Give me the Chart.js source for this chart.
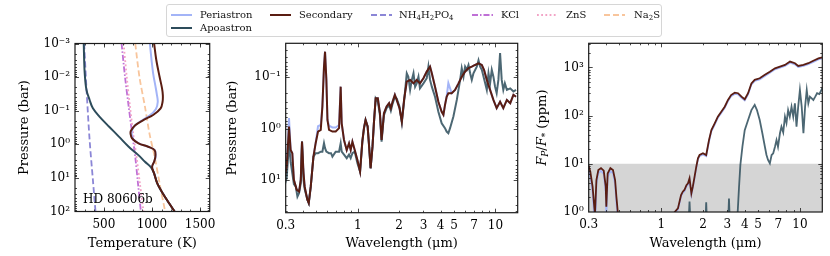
<!DOCTYPE html>
<html>
<head>
<meta charset="utf-8">
<script src="https://cdn.jsdelivr.net/npm/chart.js@4.4.0/dist/chart.umd.min.js"></script>
<style>
    html, body { margin: 0; padding: 0; background: #fff; }
    #lienzo { position: relative; width: 830px; height: 256px; overflow: hidden; font-family: "DejaVu Serif", serif; }
    .panel { position: absolute; top: 0; }
    #leyenda {
        position: absolute; left: 166px; top: 4px; width: 496px; height: 33px;
        box-sizing: border-box; border: 1px solid #d6d6d6; border-radius: 3px;
        background: rgba(255, 255, 255, 0.85); font-size: 10px; color: #111; z-index: 2;
    }
    .entrada { position: absolute; height: 12px; line-height: 12px; white-space: nowrap; }
    .entrada svg { position: absolute; top: 3px; }
    .entrada span { position: absolute; top: 0; }
    sub { font-size: 7px; vertical-align: -2px; line-height: 0; }
</style>
</head>
<body>
<div id="lienzo">
    <canvas id="panelTP" class="panel" width="222" height="256" style="left:0px"></canvas>
    <canvas id="panelPresion" class="panel" width="300" height="256" style="left:222px"></canvas>
    <canvas id="panelFlujo" class="panel" width="308" height="256" style="left:522px"></canvas>
    <div id="leyenda"></div>
</div>
<script>
// --- DATOS: perfiles temperatura-presion (panel izquierdo) ---
const tPeriastron = [978, 995, 1012, 1035, 1050, 1060, 1040, 975, 890, 815, 790, 792, 805, 870, 965, 1030, 1038, 1022, 1001, 1022, 1055, 1113, 1180, 1235];
const pPeriastron = [1e-3, 3e-3, 7.7e-3, 0.018, 0.032, 0.055, 0.09, 0.14, 0.2, 0.29, 0.42, 0.55, 0.7, 0.95, 1.2, 1.5, 2.35, 3.3, 4.7, 7.3, 14.6, 29, 58, 100];
const tApoastron = [291, 295, 301, 319, 352, 386, 454, 555, 656, 758, 859, 927, 988, 1022, 1055, 1113, 1180, 1235];
const pApoastron = [1e-3, 3e-3, 7.7e-3, 0.024, 0.048, 0.085, 0.15, 0.30, 0.59, 1.18, 2.1, 3.3, 4.8, 7.3, 14.6, 29, 58, 100];
const tSecondary = [1022, 1045, 1079, 1105, 1113, 1110, 1090, 1012, 910, 826, 780, 778, 792, 860, 961, 1028, 1035, 1022, 1001, 1022, 1055, 1113, 1180, 1235];
const pSecondary = [1e-3, 3.1e-3, 9.8e-3, 0.022, 0.035, 0.054, 0.085, 0.134, 0.19, 0.27, 0.40, 0.5, 0.66, 0.94, 1.18, 1.5, 2.35, 3.3, 4.7, 7.3, 14.6, 29, 58, 100];

// curvas de condensacion
const tNH4H2PO4 = [295, 322, 352, 386, 413];
const pNH4H2PO4 = [1e-3, 0.03, 0.75, 11.5, 100];
const tKCl = [684, 720, 758, 795, 826, 855, 885];
const pKCl = [1e-3, 0.01, 0.076, 0.5, 2.35, 15, 100];
const tZnS = [705, 738, 772, 806, 840, 875, 912];
const pZnS = [1e-3, 0.01, 0.076, 0.5, 2.35, 15, 100];
const tNa2S = [826, 870, 927, 975, 1028, 1080, 1137];
const pNa2S = [1e-3, 0.01, 0.076, 0.5, 2.35, 15, 100];

// --- DATOS: presion fotosferica vs longitud de onda (panel central) ---
const waveSec2 = [0.295, 0.305, 0.317, 0.326, 0.335, 0.344, 0.361, 0.375, 0.386, 0.394, 0.404, 0.412, 0.431, 0.441, 0.456, 0.477, 0.495, 0.515, 0.539, 0.554, 0.569, 0.579, 0.592, 0.603, 0.619, 0.655, 0.692, 0.732, 0.752, 0.765, 0.795, 0.832, 0.865, 0.889, 0.915, 0.951, 0.995, 1.04, 1.08, 1.11, 1.14, 1.18, 1.21, 1.24, 1.28, 1.31, 1.35, 1.40, 1.45, 1.49, 1.55, 1.62, 1.69, 1.74, 1.79, 1.86, 1.92, 2.01, 2.09, 2.17, 2.27, 2.40, 2.54, 2.68, 2.83, 3.0, 3.17, 3.35, 3.45, 3.64, 3.85, 4.07, 4.19, 4.30, 4.42, 4.55, 4.81, 5.09, 5.39, 5.69, 6.02, 6.37, 6.73, 7.11, 7.53, 7.96, 8.27, 8.65, 9.14, 9.66, 10.2, 10.8, 11.4, 12.1, 12.8, 13.5, 14.1];
const presSec2 = [8.5, 5.5, 0.91, 2.6, 3.0, 9.9, 15.5, 16.7, 9.9, 1.79, 7.3, 13.4, 24, 28, 13.4, 3.5, 1.92, 1.14, 1.06, 0.37, 0.0625, 0.032, 0.113, 0.68, 1.06, 1.14, 1.14, 0.98, 0.153, 0.79, 1.66, 2.6, 1.92, 2.6, 1.79, 2.6, 4.05, 6.8, 1.79, 0.98, 0.68, 0.91, 2.24, 5.9, 2.24, 0.79, 0.257, 0.257, 0.50, 1.66, 0.50, 0.37, 0.32, 0.40, 0.30, 0.22, 0.28, 0.40, 0.73, 0.277, 0.122, 0.113, 0.132, 0.113, 0.132, 0.105, 0.078, 0.0625, 0.084, 0.153, 0.30, 0.47, 0.54, 0.35, 0.24, 0.205, 0.205, 0.177, 0.132, 0.098, 0.078, 0.067, 0.0625, 0.058, 0.054, 0.058, 0.073, 0.113, 0.177, 0.277, 0.40, 0.30, 0.40, 0.277, 0.32, 0.22, 0.24];
const presPer2 = [8.5, 5.5, 0.62, 2.6, 3.0, 9.9, 15.5, 16.7, 9.9, 1.79, 7.3, 13.4, 24, 28, 13.4, 3.5, 1.92, 0.9, 0.85, 0.37, 0.0625, 0.032, 0.113, 0.68, 0.88, 0.95, 0.95, 0.85, 0.153, 0.79, 1.66, 2.6, 1.92, 2.6, 1.79, 2.6, 4.05, 6.8, 1.79, 0.98, 0.68, 0.91, 2.24, 5.9, 2.24, 0.79, 0.257, 0.257, 0.50, 1.66, 0.50, 0.37, 0.32, 0.40, 0.30, 0.22, 0.28, 0.40, 0.73, 0.277, 0.122, 0.113, 0.132, 0.113, 0.132, 0.105, 0.078, 0.0625, 0.084, 0.153, 0.30, 0.47, 0.54, 0.35, 0.24, 0.13, 0.205, 0.177, 0.132, 0.098, 0.078, 0.067, 0.0625, 0.058, 0.054, 0.058, 0.073, 0.113, 0.177, 0.277, 0.40, 0.30, 0.40, 0.277, 0.32, 0.22, 0.24];
const waveApo2 = [0.295, 0.305, 0.317, 0.326, 0.335, 0.344, 0.355, 0.365, 0.375, 0.386, 0.394, 0.404, 0.412, 0.431, 0.441, 0.456, 0.477, 0.495, 0.515, 0.539, 0.554, 0.569, 0.579, 0.592, 0.619, 0.64, 0.655, 0.692, 0.732, 0.752, 0.765, 0.795, 0.832, 0.865, 0.889, 0.915, 0.951, 0.995, 1.04, 1.08, 1.11, 1.14, 1.18, 1.21, 1.24, 1.28, 1.31, 1.35, 1.40, 1.45, 1.49, 1.55, 1.62, 1.69, 1.74, 1.79, 1.86, 1.92, 2.01, 2.09, 2.17, 2.27, 2.33, 2.40, 2.47, 2.54, 2.61, 2.68, 2.76, 2.83, 3.0, 3.17, 3.26, 3.35, 3.45, 3.64, 3.85, 4.07, 4.30, 4.42, 4.55, 4.68, 4.95, 5.24, 5.54, 5.69, 5.86, 6.02, 6.19, 6.37, 6.55, 6.73, 6.92, 7.32, 7.53, 7.74, 7.96, 8.42, 8.65, 8.90, 9.14, 9.40, 9.66, 9.93, 10.2, 10.5, 10.8, 11.1, 11.4, 11.7, 12.1, 12.8, 13.5, 14.1];
const presApo2 = [12.4, 9, 1.92, 4.5, 7.3, 12, 13.4, 21, 18, 11.5, 1.79, 9.9, 15, 24, 28, 13.4, 3.5, 3.0, 3.0, 2.8, 2.8, 1.92, 2.4, 2.8, 3.0, 3.0, 3.5, 2.8, 2.8, 1.92, 2.8, 3.2, 3.75, 3.2, 3.75, 3.0, 2.8, 4.7, 6.8, 1.79, 0.98, 0.68, 0.91, 2.24, 5.9, 2.24, 0.79, 0.257, 0.30, 0.55, 1.8, 0.55, 0.40, 0.35, 0.45, 0.33, 0.24, 0.26, 0.37, 0.76, 0.30, 0.084, 0.098, 0.177, 0.113, 0.084, 0.153, 0.132, 0.098, 0.165, 0.132, 0.105, 0.0625, 0.113, 0.153, 0.24, 0.47, 0.79, 0.98, 1.14, 1.23, 0.98, 0.58, 0.277, 0.113, 0.067, 0.098, 0.0625, 0.072, 0.058, 0.084, 0.113, 0.084, 0.0625, 0.047, 0.0625, 0.072, 0.132, 0.177, 0.084, 0.132, 0.072, 0.098, 0.153, 0.205, 0.113, 0.034, 0.113, 0.177, 0.132, 0.177, 0.165, 0.19, 0.177];

// --- DATOS: contraste planeta/estrella en ppm (panel derecho) ---
const waveSec3 = [0.298, 0.308, 0.320, 0.329, 0.333, 0.341, 0.352, 0.368, 0.385, 0.398, 0.402, 0.411, 0.430, 0.449, 0.465, 0.475, 0.486, 0.495, 1.22, 1.25, 1.32, 1.39, 1.43, 1.47, 1.52, 1.56, 1.60, 1.65, 1.69, 1.74, 1.79, 1.84, 1.89, 2.0, 2.11, 2.21, 2.30, 2.43, 2.56, 2.71, 2.87, 3.03, 3.19, 3.39, 3.58, 3.79, 4.0, 4.23, 4.47, 4.72, 5.13, 5.59, 6.07, 6.61, 7.18, 7.80, 8.48, 9.21, 9.72, 10.6, 11.5, 12.5, 13.6, 14.5];
const fluxSec3 = [9.4, 6.9, 3.35, 1.29, 0.9, 4.6, 7.4, 8.1, 7.2, 3.35, 1.29, 6.3, 8.1, 7.4, 4.6, 2.08, 1.01, 0.3, 0.3, 1.0, 1.19, 2.25, 2.64, 2.86, 3.6, 3.94, 5.0, 2.44, 3.35, 5.4, 8.7, 13, 15.2, 16.5, 15.2, 31, 50, 69, 95, 120, 153, 211, 267, 298, 291, 247, 218, 291, 464, 550, 595, 700, 813, 958, 1040, 1125, 1320, 1220, 1070, 1125, 1220, 1370, 1540, 1620];
const fluxPer3 = [7.8, 5.6, 2.6, 0.8, 0.3, 3.8, 6.4, 7.1, 6.2, 2.6, 0.8, 5.3, 7.0, 6.4, 3.8, 1.6, 0.7, 0.2, 0.3, 0.95, 1.12, 2.1, 2.5, 2.7, 3.4, 3.7, 4.7, 2.3, 3.2, 5.1, 8.2, 12.3, 14.4, 15.6, 14.4, 29, 47, 65, 90, 113, 145, 200, 252, 282, 275, 234, 206, 276, 440, 522, 565, 665, 772, 910, 988, 1070, 1255, 1160, 1017, 1070, 1160, 1300, 1465, 1540];
const waveApo3 = [0.3, 1.55, 1.57, 1.60, 1.63, 2.08, 2.11, 2.14, 3.03, 3.08, 3.13, 3.48, 3.64, 3.72, 3.85, 4.0, 4.23, 4.47, 4.72, 4.9, 5.13, 5.36, 5.59, 5.74, 5.89, 6.07, 6.25, 6.42, 6.61, 6.78, 6.95, 7.18, 7.36, 7.58, 7.80, 8.0, 8.22, 8.45, 8.7, 8.95, 9.2, 9.45, 9.72, 10.0, 10.3, 10.6, 10.9, 11.2, 11.5, 11.8, 12.5, 12.9, 13.3, 13.8, 14.5];
const fluxApo3 = [0.3, 0.3, 0.5, 1.64, 0.5, 0.5, 1.6, 0.5, 0.5, 1.9, 0.5, 0.3, 3.35, 9.4, 22.6, 50, 81, 130, 167, 130, 81, 43, 22.6, 15.2, 12, 10.2, 15.2, 16.5, 22.6, 31, 22.6, 43, 59, 45, 95, 70, 130, 95, 153, 95, 180, 59, 153, 340, 153, 43, 153, 340, 180, 247, 211, 247, 291, 280, 370];
// banda gris de ruido (hasta 10 ppm)
const ruidoX = [0.2, 20];
const ruidoY = [10, 10];

// etiquetas de ejes
const ticksTemperatura = [500, 1000, 1500];
const ticksOnda = [0.3, 1, 2, 3, 4, 5, 7, 10];

// --- COLORES ---
const colPeri = '#a3b4f7';
const colApo = '#2d4c5b';
const colSec = '#5a1d12';
const colNH4 = '#8b86d6';
const colKCl = '#bf70d6';
const colZnS = '#f2a3c6';
const colNa2S = '#f8c59c';

// --- UTILIDADES ---
function puntos(xs, ys) {
    return xs.map((x, i) => ({ x: x, y: ys[i] }));
}

const SUP = { '-': '\u207B', '0': '\u2070', '1': '\u00B9', '2': '\u00B2', '3': '\u00B3', '4': '\u2074', '5': '\u2075', '6': '\u2076', '7': '\u2077', '8': '\u2078', '9': '\u2079' };
function potenciaDiez(v) {
    const e = Math.round(Math.log10(v));
    return '10' + String(e).split('').map(c => SUP[c]).join('');
}
function decadas(desde, hasta) {
    const out = [];
    for (let e = desde; e <= hasta; e++) out.push(Math.pow(10, e));
    return out;
}
function menoresLog(desde, hasta) {
    const out = [];
    for (let e = desde; e <= hasta; e++) {
        for (let m = 2; m <= 9; m++) out.push(m * Math.pow(10, e));
    }
    return out;
}
function menoresLin(desde, hasta, paso) {
    const out = [];
    for (let v = desde; v <= hasta; v += paso) out.push(v);
    return out;
}

// orden: numero menor se dibuja encima
function linea(datos, color, ancho, orden, extra) {
    return Object.assign({
        data: datos,
        borderColor: color,
        borderWidth: ancho,
        showLine: true,
        pointRadius: 0,
        fill: false,
        tension: 0,
        order: orden
    }, extra || {});
}

// --- PLUGINS: marco con ticks hacia adentro y textos extra ---
const marcoPlugin = {
    id: 'marco',
    afterDatasetsDraw(chart, args, opts) {
        const ctx = chart.ctx;
        const a = chart.chartArea;
        const sx = chart.scales.x;
        const sy = chart.scales.y;
        ctx.save();
        ctx.strokeStyle = '#1a1a1a';
        ctx.lineWidth = 0.8;
        ctx.beginPath();
        const marcas = (vals, largo, horizontal) => {
            vals.forEach(v => {
                if (horizontal) {
                    const px = Math.round(sx.getPixelForValue(v)) + 0.5;
                    if (px < a.left + 1 || px > a.right - 1) return;
                    ctx.moveTo(px, a.bottom); ctx.lineTo(px, a.bottom - largo);
                    ctx.moveTo(px, a.top); ctx.lineTo(px, a.top + largo);
                } else {
                    const py = Math.round(sy.getPixelForValue(v)) + 0.5;
                    if (py < a.top + 1 || py > a.bottom - 1) return;
                    ctx.moveTo(a.left, py); ctx.lineTo(a.left + largo, py);
                    ctx.moveTo(a.right, py); ctx.lineTo(a.right - largo, py);
                }
            });
        };
        marcas(opts.xMayores, 4, true);
        marcas(opts.xMenores, 2, true);
        marcas(opts.yMayores, 4, false);
        marcas(opts.yMenores, 2, false);
        ctx.stroke();
        ctx.lineWidth = 1.2;
        ctx.strokeRect(a.left, a.top, a.right - a.left, a.bottom - a.top);
        ctx.restore();
    }
};

const textosPlugin = {
    id: 'textos',
    afterDraw(chart, args, opts) {
        const ctx = chart.ctx;
        const a = chart.chartArea;
        ctx.save();
        ctx.fillStyle = '#000';
        ctx.textBaseline = 'middle';
        if (opts.etiqueta) {
            ctx.font = '12px "DejaVu Serif"';
            ctx.fillText(opts.etiqueta, a.left + 8, a.bottom - 11.5);
        }
        if (opts.tituloFp) {
            // F_P / F_* (ppm), en vertical
            const piezas = [
                { t: 'F', f: 'italic 13px "DejaVu Serif"', dy: 0 },
                { t: 'P', f: 'italic 9px "DejaVu Serif"', dy: 3 },
                { t: '/', f: '13px "DejaVu Serif"', dy: 0 },
                { t: 'F', f: 'italic 13px "DejaVu Serif"', dy: 0 },
                { t: '*', f: '9px "DejaVu Serif"', dy: 3 },
                { t: ' (ppm)', f: '13px "DejaVu Serif"', dy: 0 }
            ];
            let total = 0;
            piezas.forEach(p => { ctx.font = p.f; p.w = ctx.measureText(p.t).width; total += p.w; });
            ctx.translate(opts.tituloX, (a.top + a.bottom) / 2);
            ctx.rotate(-Math.PI / 2);
            let x = -total / 2;
            piezas.forEach(p => { ctx.font = p.f; ctx.fillText(p.t, x, p.dy); x += p.w; });
        }
        ctx.restore();
    }
};

Chart.defaults.font.family = '"DejaVu Serif", serif';
Chart.defaults.font.size = 12;
Chart.defaults.color = '#000';

function ejeX(cfg) {
    return {
        type: cfg.tipo,
        min: cfg.min,
        max: cfg.max,
        bounds: 'data',
        grid: { display: false, drawTicks: false },
        border: { display: false },
        ticks: { padding: 6, autoSkip: false, maxRotation: 0, minRotation: 0, callback: v => String(v) },
        afterBuildTicks: s => { s.ticks = cfg.etiquetas.map(v => ({ value: v })); },
        afterFit: s => { s.height = cfg.alto; },
        title: { display: true, text: cfg.titulo, font: { size: 13 }, padding: { top: 0, bottom: 5 } }
    };
}

function ejeY(cfg) {
    return {
        type: 'logarithmic',
        min: cfg.min,
        max: cfg.max,
        reverse: cfg.invertido,
        bounds: 'data',
        grid: { display: false, drawTicks: false },
        border: { display: false },
        ticks: { padding: 5, autoSkip: false, callback: v => potenciaDiez(v) },
        afterBuildTicks: s => { s.ticks = cfg.etiquetas.map(v => ({ value: v })); },
        afterFit: s => { s.width = cfg.ancho; },
        title: { display: !!cfg.titulo, text: cfg.titulo || '', font: { size: 13 }, padding: { top: cfg.tituloPad || 0, bottom: 0 } }
    };
}

function crearPanel(id, cfg) {
    const ctx = document.getElementById(id).getContext('2d');
    return new Chart(ctx, {
        type: 'scatter',
        data: { datasets: cfg.datasets },
        options: {
            responsive: false,
            animation: false,
            events: [],
            layout: { padding: { top: cfg.arriba, right: cfg.derecha, left: 0, bottom: 0 } },
            plugins: {
                legend: { display: false },
                tooltip: { enabled: false },
                marco: cfg.marcas,
                textos: cfg.textos || {}
            },
            scales: { x: cfg.x, y: cfg.y }
        },
        plugins: [marcoPlugin, textosPlugin]
    });
}

// --- PANEL 1: perfiles T-P ---
crearPanel('panelTP', {
    arriba: 43.5,
    derecha: 9,
    datasets: [
        linea(puntos(tNH4H2PO4, pNH4H2PO4), colNH4, 1.8, 7, { borderDash: [6, 3], tension: 0.3 }),
        linea(puntos(tKCl, pKCl), colKCl, 1.8, 6, { borderDash: [6, 2, 1.5, 2], tension: 0.3 }),
        linea(puntos(tZnS, pZnS), colZnS, 1.8, 5, { borderDash: [1.8, 2.4], tension: 0.3 }),
        linea(puntos(tNa2S, pNa2S), colNa2S, 1.8, 4, { borderDash: [6, 3], tension: 0.3 }),
        linea(puntos(tPeriastron, pPeriastron), colPeri, 2, 3, { tension: 0.35 }),
        linea(puntos(tApoastron, pApoastron), colApo, 2, 2, { tension: 0.35 }),
        linea(puntos(tSecondary, pSecondary), colSec, 2, 1, { tension: 0.35 })
    ],
    x: ejeX({ tipo: 'linear', min: 200, max: 1600, etiquetas: ticksTemperatura, alto: 44.5, titulo: 'Temperature (K)' }),
    y: ejeY({ min: 1e-3, max: 100, invertido: true, etiquetas: decadas(-3, 2), ancho: 75, titulo: 'Pressure (bar)', tituloPad: 17 }),
    marcas: {
        xMayores: ticksTemperatura,
        xMenores: menoresLin(200, 1600, 100),
        yMayores: decadas(-3, 2),
        yMenores: menoresLog(-3, 1)
    },
    textos: { etiqueta: 'HD 80606b' }
});

// --- PANEL 2: presion fotosferica ---
crearPanel('panelPresion', {
    arriba: 43.3,
    derecha: 4.3,
    datasets: [
        linea(puntos(waveSec2, presPer2), colPeri, 2, 3),
        linea(puntos(waveApo2, presApo2), 'rgba(45, 76, 91, 0.85)', 2, 2),
        linea(puntos(waveSec2, presSec2), colSec, 2, 1)
    ],
    x: ejeX({ tipo: 'logarithmic', min: 0.3, max: 14.5, etiquetas: ticksOnda, alto: 43.3, titulo: 'Wavelength (\u03BCm)' }),
    y: ejeY({ min: 0.022, max: 43, invertido: true, etiquetas: decadas(-1, 1), ancho: 63.7, titulo: 'Pressure (bar)', tituloPad: 3.2 }),
    marcas: {
        xMayores: decadas(0, 1),
        xMenores: menoresLog(-1, 1),
        yMayores: decadas(-2, 1),
        yMenores: menoresLog(-2, 1)
    }
});

// --- PANEL 3: contraste Fp/F* ---
crearPanel('panelFlujo', {
    arriba: 43.3,
    derecha: 7.7,
    datasets: [
        linea(puntos(ruidoX, ruidoY), 'rgba(0,0,0,0)', 0, 10, { fill: 'start', backgroundColor: '#d5d5d5' }),
        linea(puntos(waveSec3, fluxPer3), colPeri, 1.8, 3),
        linea(puntos(waveApo3, fluxApo3), 'rgba(45, 76, 91, 0.85)', 1.8, 2),
        linea(puntos(waveSec3, fluxSec3), colSec, 1.8, 1)
    ],
    x: ejeX({ tipo: 'logarithmic', min: 0.3, max: 14.5, etiquetas: ticksOnda, alto: 44, titulo: 'Wavelength (\u03BCm)' }),
    y: ejeY({ min: 1, max: 3160, invertido: false, etiquetas: decadas(0, 3), ancho: 66.7 }),
    marcas: {
        xMayores: decadas(0, 1),
        xMenores: menoresLog(-1, 1),
        yMayores: decadas(0, 3),
        yMenores: menoresLog(0, 3)
    },
    textos: { tituloFp: true, tituloX: 20.5 }
});

// --- LEYENDA (HTML) ---
const entradasLeyenda = [
    { html: 'Periastron', color: colPeri, dash: '', linea: 4, texto: 33, fila: 0 },
    { html: 'Apoastron', color: colApo, dash: '', linea: 4, texto: 33, fila: 1 },
    { html: 'Secondary', color: colSec, dash: '', linea: 103, texto: 132, fila: 0 },
    { html: 'NH<sub>4</sub>H<sub>2</sub>PO<sub>4</sub>', color: colNH4, dash: '6 3', linea: 204, texto: 232, fila: 0 },
    { html: 'KCl', color: colKCl, dash: '6 2 1.5 2', linea: 305, texto: 334, fila: 0 },
    { html: 'ZnS', color: colZnS, dash: '1.8 2.4', linea: 370, texto: 399, fila: 0 },
    { html: 'Na<sub>2</sub>S', color: colNa2S, dash: '6 3', linea: 437, texto: 467, fila: 0 }
];
const $leyenda = document.getElementById('leyenda');
entradasLeyenda.forEach(e => {
    const top = e.fila === 0 ? 4 : 17;
    const div = document.createElement('div');
    div.className = 'entrada';
    div.style.left = '0px';
    div.style.top = top + 'px';
    div.innerHTML =
        `<svg width="21" height="6" style="left:${e.linea}px"><line x1="0" y1="3" x2="21" y2="3" stroke="${e.color}" stroke-width="2" stroke-dasharray="${e.dash}"/></svg>` +
        `<span style="left:${e.texto}px">${e.html}</span>`;
    $leyenda.appendChild(div);
});
</script>
</body>
</html>
